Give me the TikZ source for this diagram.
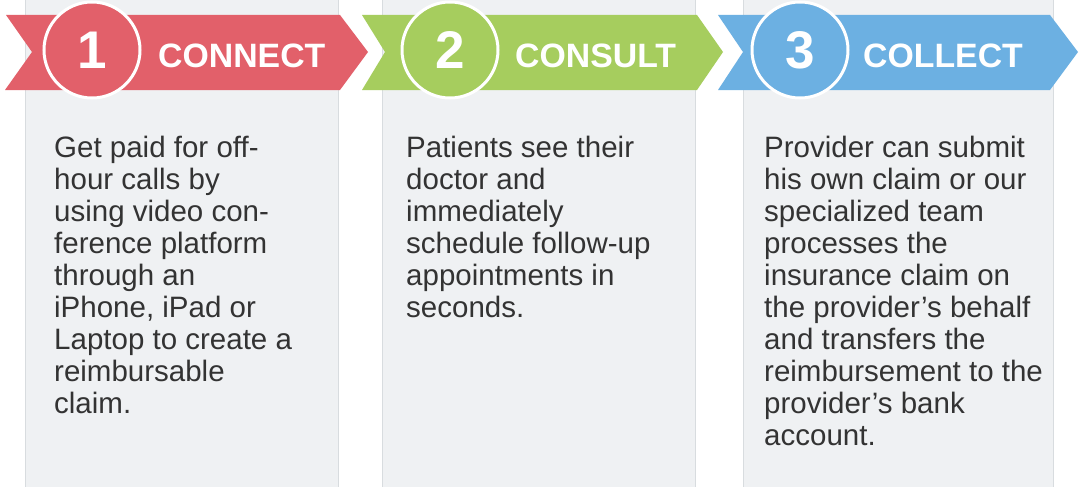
\documentclass[tikz,border=0pt]{standalone}
\usepackage{fontspec}
\setmainfont{Liberation Sans}
\definecolor{stepred}{RGB}{226,96,106}
\definecolor{stepgreen}{RGB}{166,205,94}
\definecolor{stepblue}{RGB}{108,176,226}
\definecolor{panelgrey}{RGB}{239,241,243}
\definecolor{panelline}{RGB}{216,220,223}
\definecolor{bodytext}{RGB}{51,51,51}
\tikzset{
  panel/.style={fill=panelgrey, draw=panelline, line width=0.8pt},
  numdisc/.style={circle, minimum size=96pt, inner sep=0pt, draw=white, line width=3pt,
    text=white, font=\fontsize{53}{60}\selectfont\bfseries},
  heading/.style={anchor=west, inner sep=0pt, text=white, font=\fontsize{33.8}{40}\selectfont\bfseries},
  bodybox/.style={anchor=north west, inner sep=0pt, align=left, text=bodytext,
    font=\fontsize{29.5}{32}\selectfont}
}
\begin{document}
\begin{tikzpicture}[x=1pt,y=-1pt]
  \useasboundingbox[fill=white] (0,0) rectangle (1079,487);
  %% grey panels
  \draw[panel] (25,-2) rectangle (338,489);
  \draw[panel] (382,-2) rectangle (695,489);
  \draw[panel] (743,-2) rectangle (1053,489);
  %% ribbons
  \fill[stepred] (6,15) -- (340,15) -- (368,52) -- (340,90) -- (5,90) -- (32,52) -- cycle;
  \fill[stepgreen] (362,15) -- (697,15) -- (723,52) -- (697,90) -- (362,90) -- (385,52) -- cycle;
  \fill[stepblue] (718,15) -- (1050,15) -- (1078,52) -- (1050,90) -- (718,90) -- (743,52) -- cycle;
  %% numbers and titles
  \node[numdisc, fill=stepred] (one) at (92,50) {1};
  \node[numdisc, fill=stepgreen] (two) at (450,50) {2};
  \node[numdisc, fill=stepblue] (three) at (800,50) {3};
  \node[heading] (connect) at (158,55.5) {CONNECT};
  \node[heading] (consult) at (515,55.5) {CONSULT};
  \node[heading] (collect) at (863,55.5) {COLLECT};
  %% body texts
  \node[bodybox] (connecttext) at (54,136) {Get paid for off-\\hour calls by\\using video con-\\ference platform\\through an\\iPhone, iPad or\\Laptop to create a\\reimbursable\\claim.};
  \node[bodybox] (consulttext) at (406,136) {Patients see their\\doctor and\\immediately\\schedule follow-up\\appointments in\\seconds.};
  \node[bodybox] (collecttext) at (764,136) {Provider can submit\\his own claim or our\\specialized team\\processes the\\insurance claim on\\the provider’s behalf\\and transfers the\\reimbursement to the\\provider’s bank\\account.};
\end{tikzpicture}
\end{document}
